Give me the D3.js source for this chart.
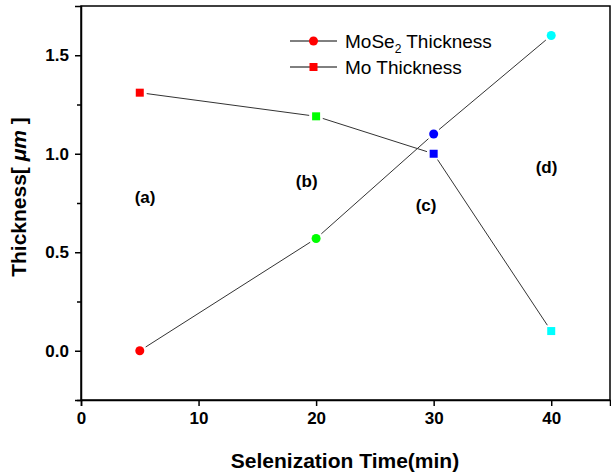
<!DOCTYPE html>
<html lang="en">
	<head>
		<meta charset="utf-8">
		<title>Thickness vs Selenization Time</title>
		<script type="text/javascript" src="https://d3js.org/d3.v7.min.js"></script>
		<style type="text/css">
			body { margin: 0; background: #fff; }
			text { font-family: "Liberation Sans", Arial, sans-serif; }
		</style>
	</head>
	<body>
		<script type="text/javascript">

			// data
			var times = [5, 20, 30, 40];
			var mose2 = [0, 0.57, 1.1, 1.6];
			var mo = [1.31, 1.19, 1.0, 0.1];
			var pointColors = ["#ff0000", "#00ff00", "#0000ff", "#00ffff"];
			var xTicks = [0, 10, 20, 30, 40];
			var yTicks = [0, 0.5, 1.0, 1.5];
			var stageLabels = ["(a)", "(b)", "(c)", "(d)"];
			var stageX = [5.45, 19.2, 29.35, 39.6];
			var stageY = [0.75, 0.83, 0.71, 0.9];

			var w = 611, h = 473;
			var padL = 81, padR = 610, padT = 6, padB = 400;

			var x = d3.scaleLinear().domain([0, 45]).range([padL, padR]);
			var y = d3.scaleLinear().domain([-0.25, 1.75]).range([padB, padT]);

			var svg = d3.select("body").append("svg")
				.attr("width", w)
				.attr("height", h);

			// frame
			svg.append("rect")
				.attr("x", padL).attr("y", padT)
				.attr("width", padR - padL).attr("height", padB - padT)
				.attr("fill", "none").attr("stroke", "#000").attr("stroke-width", 1.5);

			// axes
			svg.append("g")
				.attr("transform", "translate(0," + padB + ")")
				.call(d3.axisBottom(x).tickValues(xTicks).tickSize(6).tickPadding(6).tickFormat(d3.format("d")));

			svg.append("g")
				.attr("transform", "translate(" + padL + ",0)")
				.call(d3.axisLeft(y).tickValues(yTicks).tickSize(6).tickPadding(6).tickFormat(d3.format(".1f")));

			// minor y ticks
			svg.append("g")
				.attr("transform", "translate(" + padL + ",0)")
				.call(d3.axisLeft(y).tickValues([-0.25, 0.25, 0.75, 1.25]).tickSize(4).tickFormat(""))
				.select(".domain").remove();

			svg.selectAll(".domain").attr("stroke-width", 1.5);
			svg.selectAll(".tick line").attr("stroke-width", 1.5);
			svg.selectAll(".tick text")
				.attr("font-size", "17px")
				.attr("font-weight", "bold")
				.attr("fill", "#000");

			// axis titles
			svg.append("text")
				.attr("x", 345)
				.attr("y", 468)
				.attr("text-anchor", "middle")
				.attr("font-size", "21px")
				.attr("font-weight", "bold")
				.text("Selenization Time(min)");

			var yt = svg.append("text")
				.attr("transform", "translate(26,197) rotate(-90)")
				.attr("text-anchor", "middle")
				.attr("font-size", "21px")
				.attr("font-weight", "bold");
			yt.append("tspan").text("Thickness[ ");
			yt.append("tspan").attr("font-style", "italic").text("\u03bcm");
			yt.append("tspan").text(" ]");

			// line segments with small gaps round the markers
			function drawSeries(vals) {
				var pts = times.map(function(t, i) { return [x(t), y(vals[i])]; });
				for (var i = 0; i < pts.length - 1; i++) {
					var a = pts[i], b = pts[i + 1];
					var dx = b[0] - a[0], dy = b[1] - a[1];
					var len = Math.sqrt(dx * dx + dy * dy);
					var g = 7;
					svg.append("line")
						.attr("x1", a[0] + dx / len * g).attr("y1", a[1] + dy / len * g)
						.attr("x2", b[0] - dx / len * g).attr("y2", b[1] - dy / len * g)
						.attr("stroke", "#333").attr("stroke-width", 1);
				}
			}
			drawSeries(mose2);
			drawSeries(mo);

			svg.selectAll(".circ")
				.data(mose2)
				.enter()
				.append("circle")
				.attr("cx", function(d, i) { return x(times[i]); })
				.attr("cy", function(d) { return y(d); })
				.attr("r", 4.5)
				.attr("fill", function(d, i) { return pointColors[i]; });

			svg.selectAll(".sq")
				.data(mo)
				.enter()
				.append("rect")
				.attr("x", function(d, i) { return x(times[i]) - 4; })
				.attr("y", function(d) { return y(d) - 4; })
				.attr("width", 8)
				.attr("height", 8)
				.attr("fill", function(d, i) { return pointColors[i]; });

			// stage labels
			svg.selectAll(".stage")
				.data(stageLabels)
				.enter()
				.append("text")
				.attr("x", function(d, i) { return x(stageX[i]); })
				.attr("y", function(d, i) { return y(stageY[i]); })
				.attr("text-anchor", "middle")
				.attr("font-size", "17px")
				.attr("font-weight", "bold")
				.text(function(d) { return d; });

			// legend
			var lg = svg.append("g").attr("transform", "translate(290,41)");
			lg.append("line").attr("x1", 0).attr("x2", 47).attr("y1", 0).attr("y2", 0).attr("stroke", "#000");
			lg.append("circle").attr("cx", 23.5).attr("cy", 0).attr("r", 4.5).attr("fill", "#ff0000");
			var t1 = lg.append("text").attr("x", 55).attr("y", 7).attr("font-size", "19px");
			t1.append("tspan").text("MoSe");
			t1.append("tspan").attr("font-size", "12px").attr("dy", 5).text("2");
			t1.append("tspan").attr("dy", -5).text(" Thickness");

			lg.append("line").attr("x1", 0).attr("x2", 47).attr("y1", 26).attr("y2", 26).attr("stroke", "#000");
			lg.append("rect").attr("x", 19.5).attr("y", 22).attr("width", 8).attr("height", 8).attr("fill", "#ff0000");
			lg.append("text").attr("x", 55).attr("y", 33).attr("font-size", "19px").text("Mo Thickness");

		</script>
	</body>
</html>
